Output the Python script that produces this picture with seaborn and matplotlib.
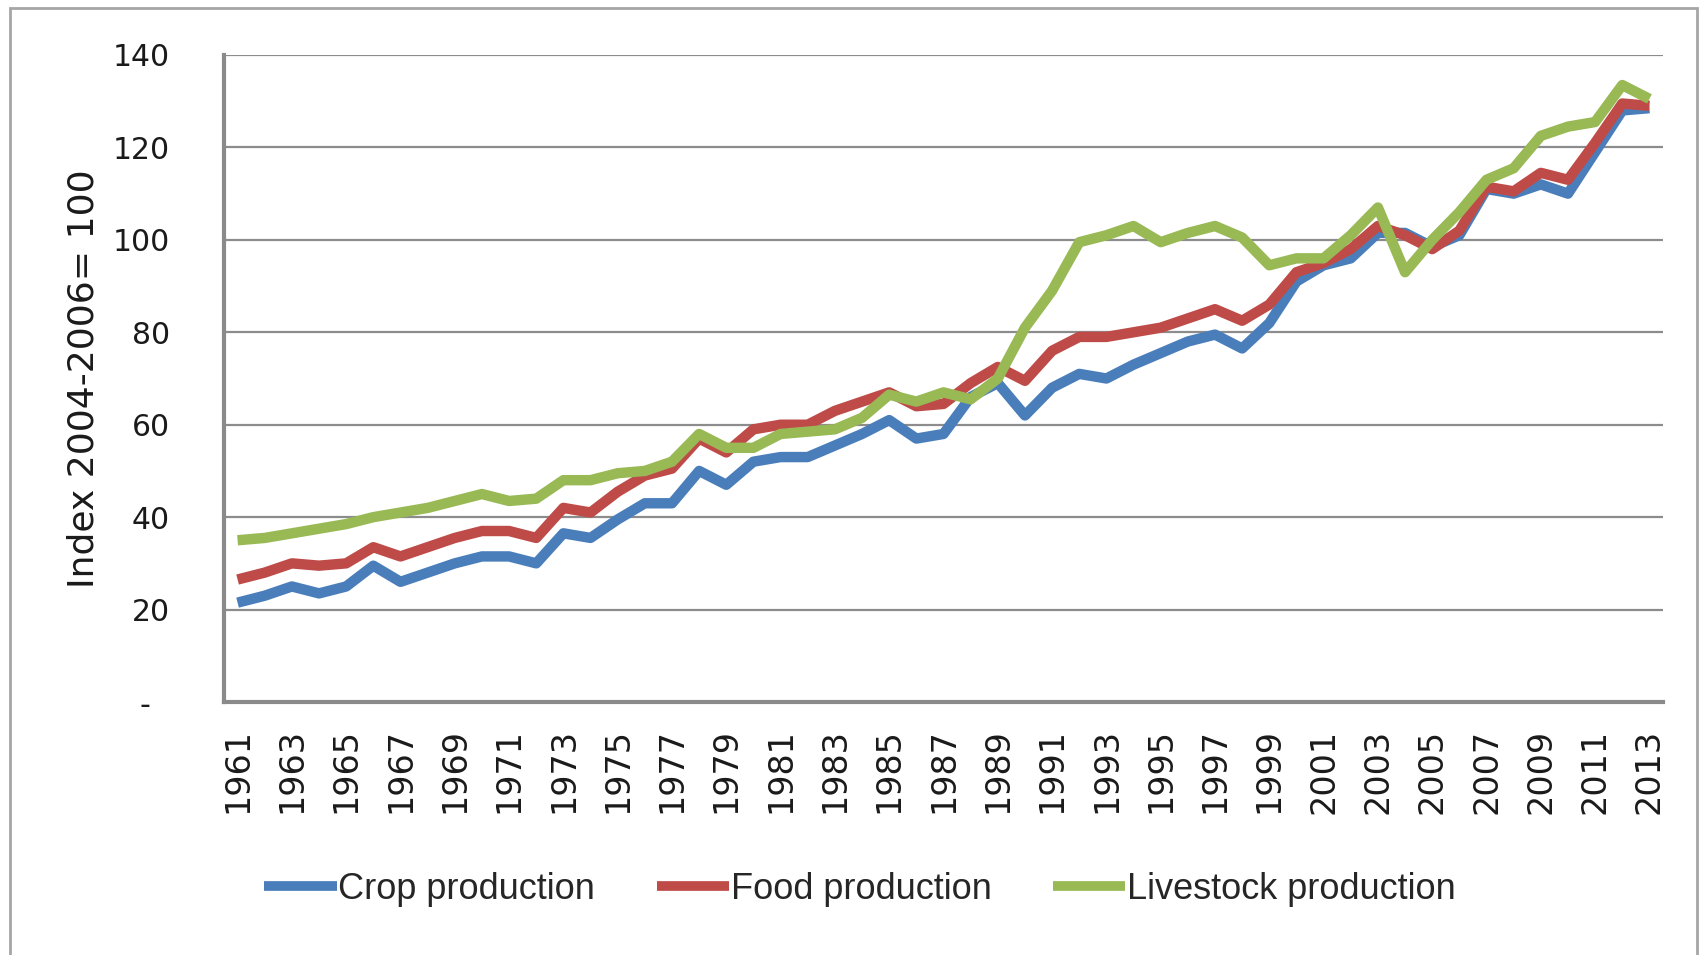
import numpy as np
import pandas as pd
import matplotlib
matplotlib.use("Agg")
import matplotlib.pyplot as plt
from matplotlib import font_manager
from matplotlib.patches import Rectangle
import seaborn as sns

years = list(range(1961, 2014))

crop = [21.5, 23, 25, 23.5, 25, 29.5, 26, 28, 30, 31.5,
        31.5, 30, 36.5, 35.5, 39.5, 43, 43, 50, 47, 52,
        53, 53, 55.5, 58, 61, 57, 58, 66, 69, 62,
        68, 71, 70, 73, 75.5, 78, 79.5, 76.5, 82, 91,
        94.5, 96, 101.5, 101.5, 98.5, 101, 111, 110, 112, 110,
        119, 128, 128.5]

food = [26.5, 28, 30, 29.5, 30, 33.5, 31.5, 33.5, 35.5, 37,
        37, 35.5, 42, 41, 45.5, 49, 50.5, 57, 54, 59,
        60, 60, 63, 65, 67, 64, 64.5, 69, 72.5, 69.5,
        76, 79, 79, 80, 81, 83, 85, 82.5, 86, 93,
        95, 98, 103, 101, 98, 102, 111.5, 110.5, 114.5, 113,
        121, 129.5, 129]

livestock = [35, 35.5, 36.5, 37.5, 38.5, 40, 41, 42, 43.5, 45,
             43.5, 44, 48, 48, 49.5, 50, 52, 58, 55, 55,
             58, 58.5, 59, 61.5, 66.5, 65, 67, 65.5, 70, 81,
             89, 99.5, 101, 103, 99.5, 101.5, 103, 100.5, 94.5, 96,
             96, 101, 107, 93, 100, 106, 113, 115.5, 122.5, 124.5,
             125.5, 133.5, 130.5]

series_names = ["Crop production", "Food production", "Livestock production"]
colors = ["#4A7EBB", "#BE4B48", "#98B954"]
y_ticks = [0, 20, 40, 60, 80, 100, 120, 140]
y_tick_labels = ["-  ", "20", "40", "60", "80", "100", "120", "140"]
x_ticks = list(range(1961, 2014, 2))
y_label = "Index 2004-2006= 100"

df = pd.DataFrame({
    "Year": years * 3,
    "Value": crop + food + livestock,
    "Series": [series_names[0]] * len(years) + [series_names[1]] * len(years) + [series_names[2]] * len(years),
})

sns.set_theme(style="white")
plt.rcParams["font.family"] = ["DejaVu Sans"]

available = {f.name for f in font_manager.fontManager.ttflist}
legend_font = "Liberation Sans Narrow" if "Liberation Sans Narrow" in available else "Liberation Sans"
legend_size = 35 if legend_font == "Liberation Sans Narrow" else 26

fig = plt.figure(figsize=(17, 9.55), dpi=100)
ax = fig.add_axes([224 / 1700, 1 - 702 / 955, (1663 - 224) / 1700, (702 - 55) / 955])

sns.lineplot(data=df, x="Year", y="Value", hue="Series", palette=colors,
             linewidth=7.5, ax=ax, legend=True)
for ln in ax.get_lines():
    ln.set_solid_joinstyle("round")
    ln.set_solid_capstyle("butt")

ax.set_xlim(1960.5, 2013.5)
ax.set_ylim(0, 140)
ax.set_yticks(y_ticks)
ax.set_yticklabels(y_tick_labels, fontsize=21.5, color="#1a1a1a")
ax.set_xticks(x_ticks)
ax.set_xticklabels([str(y) for y in x_ticks], rotation=90, fontsize=24, color="#1a1a1a")
ax.tick_params(axis="y", length=0, pad=39)
ax.tick_params(axis="x", length=0, pad=19)

ax.yaxis.grid(True, color="#8c8c8c", linewidth=1.6)
ax.xaxis.grid(False)
ax.set_axisbelow(True)
for s in ["top", "right"]:
    ax.spines[s].set_visible(False)
for s in ["left", "bottom"]:
    ax.spines[s].set_color("#8a8a8a")
    ax.spines[s].set_linewidth(3)

ax.set_xlabel("")
ax.set_ylabel(y_label, fontsize=26, color="#1a1a1a", labelpad=9)

handles, labels = ax.get_legend_handles_labels()
ax.get_legend().remove()
leg = fig.legend(handles, labels, loc="center", bbox_to_anchor=(860 / 1700, 1 - 889 / 955),
                 ncol=3, frameon=False, handlelength=2.0, handletextpad=0.05, columnspacing=1.7,
                 prop={"family": legend_font, "size": legend_size})
for h in leg.get_lines():
    h.set_linewidth(7)

fig.patches.append(Rectangle((10 / 1700, -0.05), (1697 - 10) / 1700, 1.05 - 8 / 955,
                             transform=fig.transFigure, fill=False,
                             edgecolor="#a6a6a6", linewidth=2, zorder=0))

fig.savefig("out.png", dpi=100, facecolor="white")
